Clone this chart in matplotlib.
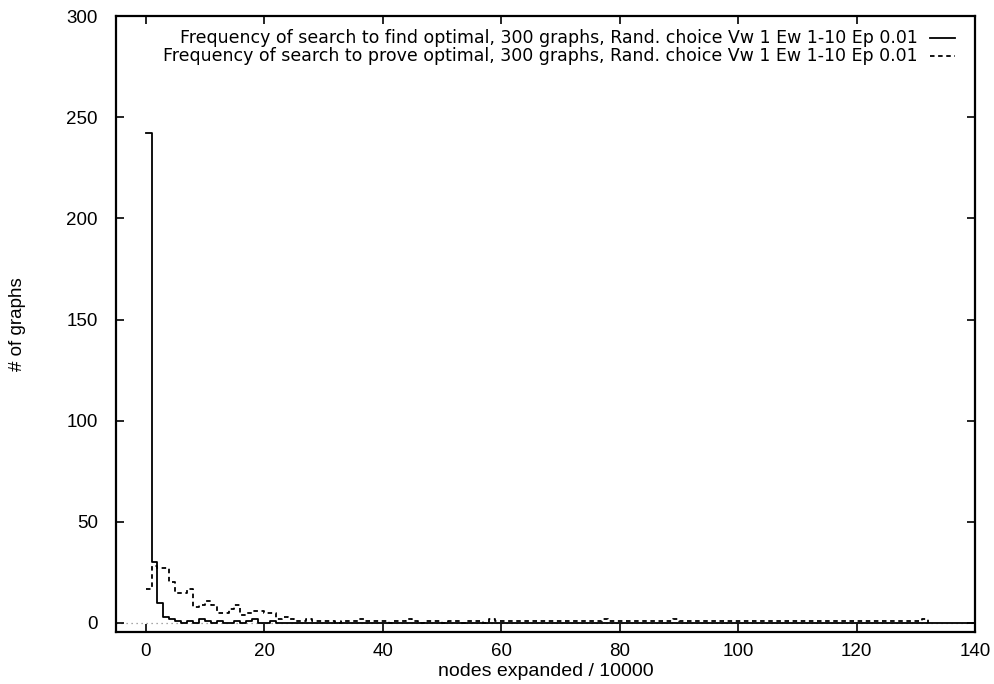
import matplotlib.pyplot as plt
import numpy as np

plt.rcParams['font.family'] = ['Liberation Sans', 'DejaVu Sans']
plt.rcParams['font.size'] = 13.5

# histogram counts, one bin per 10000 nodes, first bin starts at x = 0
find_counts = [242, 30, 10, 3, 2, 1, 0, 1, 0, 2, 1, 0, 1, 0, 0, 1, 0, 1, 2, 0, 0, 1, 0, 0]
prove_head = [17, 28, 27, 27, 20, 15, 15, 17, 8, 9, 11, 9, 5, 5, 7, 9, 4, 5, 6, 6,
              5, 5, 2, 3, 2]
prove_tail = [1, 1, 2, 1, 1, 1, 1, 0, 1, 1, 1, 2, 1, 1, 1,
              1, 0, 1, 1, 2, 1, 0, 1, 1, 1, 0, 1, 1, 0, 1, 1, 1, 0, 2, 1,
              1, 1, 1, 1, 1, 1, 1, 1, 1, 1, 1, 1, 1, 1, 1, 1, 1, 2, 1, 1,
              1, 1, 1, 1, 1, 1, 1, 1, 1, 2, 1, 1, 1, 1, 1, 1, 1, 1, 1, 1,
              1, 1, 1, 1, 1, 1, 1, 1, 1, 1, 1, 1, 1, 1, 1, 1, 1, 1, 1, 1,
              1, 1, 1, 1, 1, 1, 1, 1, 1, 1, 1, 2]
x_ticks = [0, 20, 40, 60, 80, 100, 120, 140]
y_ticks = [0, 50, 100, 150, 200, 250, 300]
find_label = 'Frequency of search to find optimal, 300 graphs, Rand. choice Vw 1 Ew 1-10 Ep 0.01'
prove_label = 'Frequency of search to prove optimal, 300 graphs, Rand. choice Vw 1 Ew 1-10 Ep 0.01'

x_min, x_max = -5, 140

# pad the find counts with empty bins out to the right edge
find = np.zeros(x_max + 1)
find[:len(find_counts)] = find_counts
prove = np.array(prove_head + prove_tail, dtype=float)

fig = plt.figure(figsize=(9.95, 6.84), dpi=100)
ax = fig.add_axes([0.1166, 0.076, 0.8633, 0.9004])

ax.axhline(0, color='0.55', linestyle=(0, (1, 3)), linewidth=0.9, zorder=1)

# gnuplot "with steps": no rise from the baseline at the first point
dash = (0, (2.5, 2))
ax.step(np.arange(len(find)), find, where='post', color='black', linewidth=1.3)
ax.step(np.arange(len(prove) + 1), np.r_[prove, 0], where='post', color='black',
        linewidth=1.3, linestyle=dash)

ax.set_xlim(x_min, x_max)
ax.set_ylim(-4.5, 300)
ax.set_xticks(x_ticks)
ax.set_yticks(y_ticks)
ax.tick_params(direction='in', length=6, width=1.2, top=True, right=True)
ax.tick_params(axis='x', pad=8)
ax.tick_params(axis='y', pad=13)
for s in ax.spines.values():
    s.set_linewidth(1.6)

ax.set_xlabel('nodes expanded / 10000', fontsize=14)
ax.xaxis.set_label_coords(0.5, -0.05)
ax.set_ylabel('# of graphs')
ax.yaxis.set_label_coords(-0.105, 0.5)

# key: right-aligned text with the line sample after it
key_font = ['DejaVu Sans']
ax.text(0.9336, 0.9640, find_label, ha='right', va='center', fontsize=12.5,
        family=key_font, transform=ax.transAxes)
ax.text(0.9336, 0.9360, prove_label, ha='right', va='center', fontsize=12.5,
        family=key_font, transform=ax.transAxes)
ax.plot([0.9476, 0.9767], [0.9640, 0.9640], color='black', linewidth=1.3,
        transform=ax.transAxes)
ax.plot([0.9476, 0.9767], [0.9360, 0.9360], color='black', linewidth=1.3,
        linestyle=dash, transform=ax.transAxes)

fig.savefig('out.png', dpi=100)
